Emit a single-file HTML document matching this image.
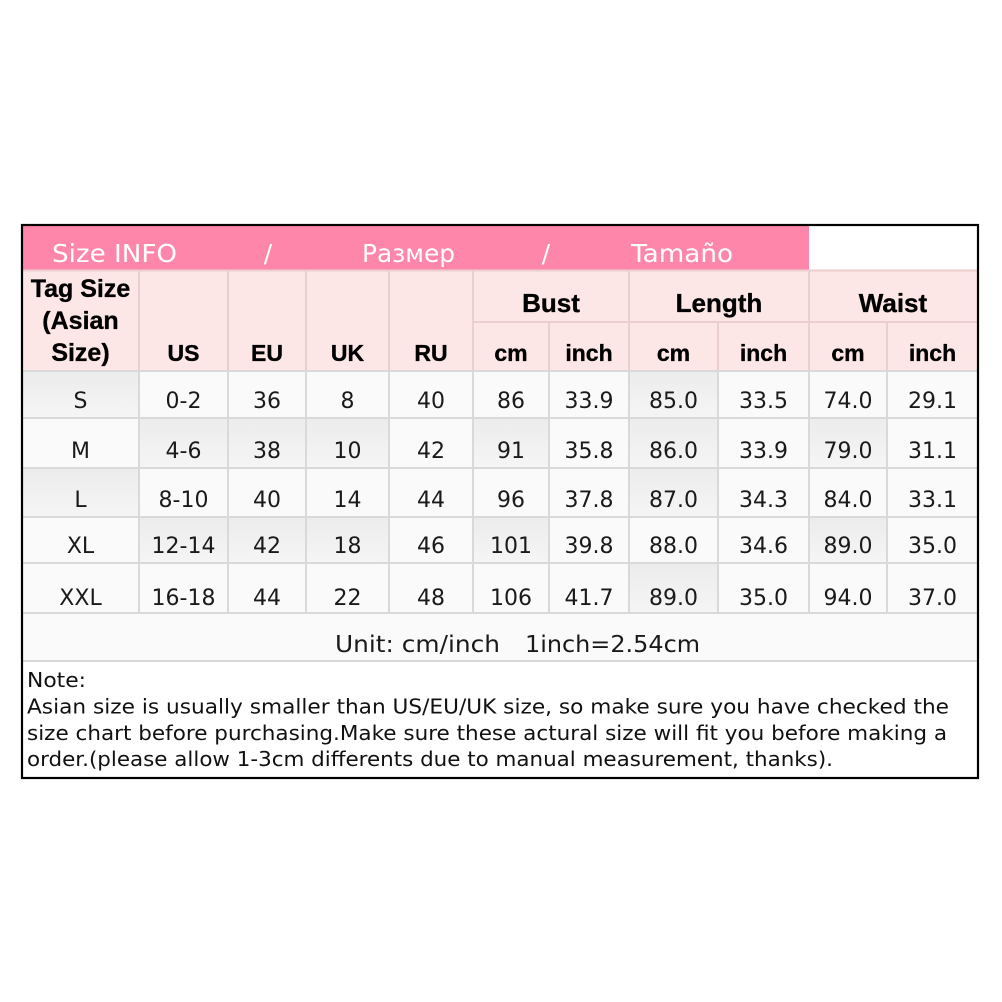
<!DOCTYPE html>
<html><head><meta charset="utf-8"><style>
html,body{margin:0;padding:0;background:#fff;}
svg{display:block;}
.t{font-family:"DejaVu Sans","Liberation Sans",sans-serif;}
.b{font-family:"Liberation Sans",sans-serif;font-weight:bold;font-size:23px;fill:#000;stroke:#000;stroke-width:0.35;}
.d{font-family:"DejaVu Sans","Liberation Sans",sans-serif;font-size:22px;fill:#1a1a1a;}
</style></head><body>
<svg width="1002" height="1002" viewBox="0 0 1002 1002" xmlns="http://www.w3.org/2000/svg">
<defs>
<linearGradient id="g" x1="0" y1="0" x2="0" y2="1"><stop offset="0" stop-color="#ececec"/><stop offset="1" stop-color="#f5f5f5"/></linearGradient>
</defs>
<rect width="1002" height="1002" fill="#fff"/>
<!-- title bar -->
<rect x="23" y="226" width="786" height="44" fill="#ff86ab"/>
<rect x="809" y="226" width="168" height="44" fill="#fff"/>
<!-- header bg -->
<rect x="23" y="270" width="954" height="101" fill="#fde7e6"/>
<!-- body bg -->
<rect x="23" y="371" width="954" height="290" fill="#fafafa"/>
<rect x="23" y="661" width="954" height="116" fill="#fff"/>
<!-- gray cells -->
<g fill="url(#g)">
<rect x="23" y="371" width="116" height="47"/>
<rect x="629" y="371" width="89" height="47"/>
<rect x="139" y="418" width="89" height="50"/>
<rect x="228" y="418" width="78" height="50"/>
<rect x="306" y="418" width="83" height="50"/>
<rect x="473" y="418" width="76" height="50"/>
<rect x="629" y="418" width="89" height="50"/>
<rect x="809" y="418" width="78" height="50"/>
<rect x="23" y="468" width="116" height="49"/>
<rect x="629" y="468" width="89" height="49"/>
<rect x="139" y="517" width="89" height="46"/>
<rect x="228" y="517" width="78" height="46"/>
<rect x="306" y="517" width="83" height="46"/>
<rect x="473" y="517" width="76" height="46"/>
<rect x="809" y="517" width="78" height="46"/>
<rect x="629" y="563" width="89" height="50"/>
</g>
<!-- header grid -->
<g stroke="#ebcfcf" stroke-width="2">
<line x1="139" y1="270" x2="139" y2="371"/>
<line x1="228" y1="270" x2="228" y2="371"/>
<line x1="306" y1="270" x2="306" y2="371"/>
<line x1="389" y1="270" x2="389" y2="371"/>
<line x1="473" y1="270" x2="473" y2="371"/>
<line x1="629" y1="270" x2="629" y2="371"/>
<line x1="809" y1="270" x2="809" y2="371"/>
<line x1="549" y1="322" x2="549" y2="371"/>
<line x1="718" y1="322" x2="718" y2="371"/>
<line x1="887" y1="322" x2="887" y2="371"/>
<line x1="473" y1="322" x2="977" y2="322"/>
<line x1="23" y1="270.5" x2="977" y2="270.5"/>
</g>
<!-- body grid -->
<g stroke="#d9d9d9" stroke-width="2">
<line x1="23" y1="371" x2="977" y2="371"/>
<line x1="23" y1="418" x2="977" y2="418"/>
<line x1="23" y1="468" x2="977" y2="468"/>
<line x1="23" y1="517" x2="977" y2="517"/>
<line x1="23" y1="563" x2="977" y2="563"/>
<line x1="23" y1="613" x2="977" y2="613"/>
<line x1="23" y1="661" x2="977" y2="661"/>
<line x1="139" y1="371" x2="139" y2="613"/>
<line x1="228" y1="371" x2="228" y2="613"/>
<line x1="306" y1="371" x2="306" y2="613"/>
<line x1="389" y1="371" x2="389" y2="613"/>
<line x1="473" y1="371" x2="473" y2="613"/>
<line x1="549" y1="371" x2="549" y2="613"/>
<line x1="629" y1="371" x2="629" y2="613"/>
<line x1="718" y1="371" x2="718" y2="613"/>
<line x1="809" y1="371" x2="809" y2="613"/>
<line x1="887" y1="371" x2="887" y2="613"/>
</g>
<!-- outer border -->
<rect x="22" y="225" width="956" height="553" fill="none" stroke="#000" stroke-width="2.2"/>
<!-- title text -->
<g class="t" fill="#fff" font-size="25">
<text x="52" y="262" textLength="125" lengthAdjust="spacingAndGlyphs">Size INFO</text>
<text x="268" y="262" text-anchor="middle">/</text>
<text x="362" y="262" textLength="93" lengthAdjust="spacingAndGlyphs">Размер</text>
<text x="546" y="262" text-anchor="middle">/</text>
<text x="631" y="262" textLength="102" lengthAdjust="spacingAndGlyphs">Tamaño</text>
</g>
<!-- header text -->
<g class="b" text-anchor="middle">
<text x="80.5" y="297" font-size="25">Tag Size</text>
<text x="80.5" y="329" font-size="25">(Asian</text>
<text x="80.5" y="361" font-size="25">Size)</text>
<text x="183.5" y="361">US</text>
<text x="267" y="361">EU</text>
<text x="347.5" y="361">UK</text>
<text x="431" y="361">RU</text>
<text x="551" y="312" font-size="26">Bust</text>
<text x="719" y="312" font-size="26">Length</text>
<text x="893" y="312" font-size="26">Waist</text>
<text x="511" y="361">cm</text>
<text x="589" y="361">inch</text>
<text x="673.5" y="361">cm</text>
<text x="763.5" y="361">inch</text>
<text x="848" y="361">cm</text>
<text x="932.5" y="361">inch</text>
</g>
<!-- data -->
<g class="d" text-anchor="middle">
<g transform="translate(0,408)">
<text x="80.5">S</text><text x="183.5">0-2</text><text x="267">36</text><text x="347.5">8</text><text x="431">40</text><text x="511">86</text><text x="589">33.9</text><text x="673.5">85.0</text><text x="763.5">33.5</text><text x="848">74.0</text><text x="932.5">29.1</text>
</g>
<g transform="translate(0,458)">
<text x="80.5">M</text><text x="183.5">4-6</text><text x="267">38</text><text x="347.5">10</text><text x="431">42</text><text x="511">91</text><text x="589">35.8</text><text x="673.5">86.0</text><text x="763.5">33.9</text><text x="848">79.0</text><text x="932.5">31.1</text>
</g>
<g transform="translate(0,507)">
<text x="80.5">L</text><text x="183.5">8-10</text><text x="267">40</text><text x="347.5">14</text><text x="431">44</text><text x="511">96</text><text x="589">37.8</text><text x="673.5">87.0</text><text x="763.5">34.3</text><text x="848">84.0</text><text x="932.5">33.1</text>
</g>
<g transform="translate(0,553)">
<text x="80.5">XL</text><text x="183.5">12-14</text><text x="267">42</text><text x="347.5">18</text><text x="431">46</text><text x="511">101</text><text x="589">39.8</text><text x="673.5">88.0</text><text x="763.5">34.6</text><text x="848">89.0</text><text x="932.5">35.0</text>
</g>
<g transform="translate(0,605)">
<text x="80.5">XXL</text><text x="183.5">16-18</text><text x="267">44</text><text x="347.5">22</text><text x="431">48</text><text x="511">106</text><text x="589">41.7</text><text x="673.5">89.0</text><text x="763.5">35.0</text><text x="848">94.0</text><text x="932.5">37.0</text>
</g>
</g>
<!-- unit row -->
<g class="t" fill="#1a1a1a" font-size="23">
<text x="335" y="652" textLength="165" lengthAdjust="spacingAndGlyphs">Unit: cm/inch</text>
<text x="525" y="652" textLength="175" lengthAdjust="spacingAndGlyphs">1inch=2.54cm</text>
</g>
<!-- note -->
<g class="t" fill="#111" font-size="20">
<text x="27" y="687" textLength="59" lengthAdjust="spacingAndGlyphs">Note:</text>
<text x="27" y="713.5" textLength="922" lengthAdjust="spacingAndGlyphs">Asian size is usually smaller than US/EU/UK size, so make sure you have checked the</text>
<text x="27" y="740" textLength="920" lengthAdjust="spacingAndGlyphs">size chart before purchasing.Make sure these actural size will fit you before making a</text>
<text x="27" y="766" textLength="806" lengthAdjust="spacingAndGlyphs">order.(please allow 1-3cm differents due to manual measurement, thanks).</text>
</g>
</svg>
</body></html>
